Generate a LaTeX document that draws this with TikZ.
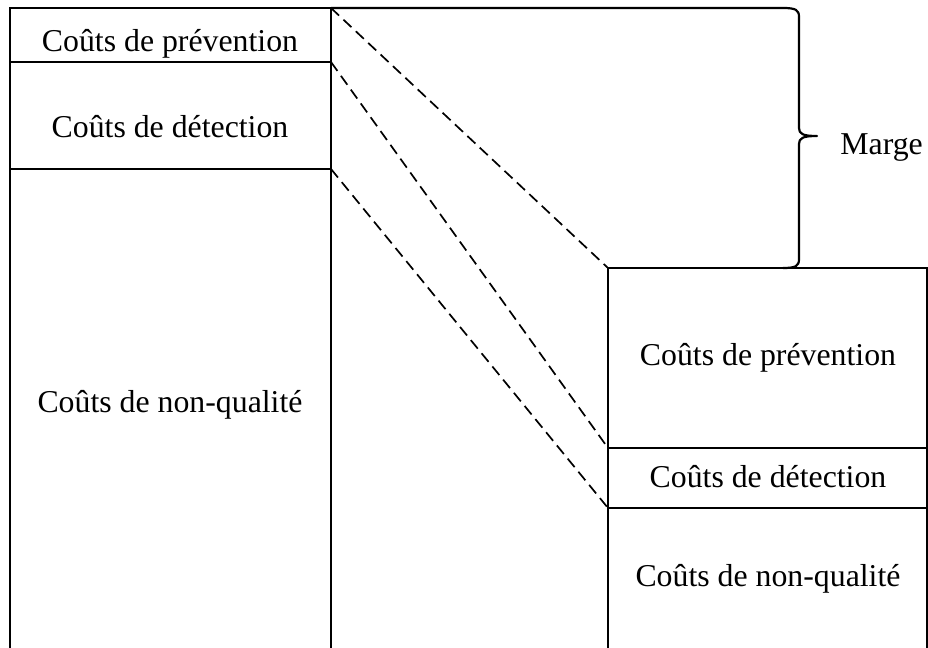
\documentclass[tikz,border=0pt]{standalone}
\usepackage{fontspec}
\setmainfont{Liberation Serif}
\begin{document}
\begin{tikzpicture}[x=0.5pt,y=-0.5pt,
  block/.style={draw, line width=1.2pt, inner sep=0pt, outer sep=0pt,
                minimum width=160.5pt, anchor=north west},
  rblock/.style={block, minimum width=159.5pt},
  lbl/.style={anchor=base, inner sep=0pt, font=\fontsize{15.9}{19}\selectfont},
  guide/.style={dash pattern=on 5.5pt off 3pt, line width=0.85pt},
  bracket/.style={line width=1.1pt, line join=round}]
\useasboundingbox (0,0) rectangle (928,648);
\begin{scope}
\clip (0,0) rectangle (928,648);
% left column: costs before
\node[block, minimum height=27pt]   (lp) at (10,8) {};
\node[block, minimum height=53.5pt] (ld) at (lp.south west) {};
\node[block, minimum height=262pt]  (ln) at (ld.south west) {};
% right column: costs after
\node[rblock, minimum height=90pt]  (rp) at (608,268) {};
\node[rblock, minimum height=30pt]  (rd) at (rp.south west) {};
\node[rblock, minimum height=95pt]  (rn) at (rd.south west) {};
\end{scope}
% labels
\node[lbl] (tlp) at (170,51)  {Coûts de prévention};
\node[lbl] (tld) at (170,137) {Coûts de détection};
\node[lbl] (tln) at (170,412) {Coûts de non-qualité};
\node[lbl] (trp) at (768,365) {Coûts de prévention};
\node[lbl] (trd) at (768,487) {Coûts de détection};
\node[lbl] (trn) at (768,586) {Coûts de non-qualité};
% dashed guides between the two columns
\draw[guide] (lp.north east) -- (rp.north west);
\draw[guide] (ld.north east) -- (rd.north west);
\draw[guide] (ln.north east) -- (rn.north west);
% brace for the margin
\coordinate (btop) at (783,8);
\coordinate (bbot) at (783,268);
\coordinate (tip) at (817,136);
\draw[bracket] (lp.north east) -- (btop)
  .. controls (796,8) and (799,10) .. (799,17) -- (799,128)
  .. controls (799,134) and (803,136) .. (tip)
  .. controls (803,136) and (799,138) .. (799,144) -- (799,259)
  .. controls (799,266) and (796,268) .. (bbot);
\node[lbl, anchor=base west] (marge) at (840,155) {Marge};
\end{tikzpicture}
\end{document}
